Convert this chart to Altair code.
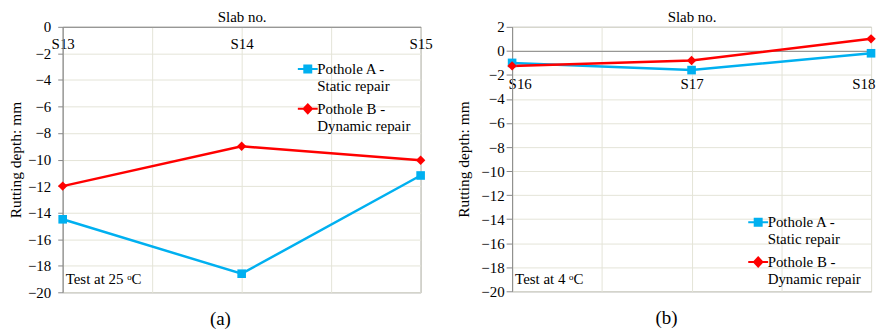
import altair as alt
import pandas as pd

# ---- data ----
slabs_a = ["S13", "S14", "S15"]
static_a = [-14.5, -18.6, -11.2]
dynamic_a = [-12.0, -9.0, -10.05]

slabs_b = ["S16", "S17", "S18"]
static_b = [-1.0, -1.6, -0.2]
dynamic_b = [-1.25, -0.8, 1.0]

series_names = ["Pothole A -|Static repair", "Pothole B -|Dynamic repair"]
series_colors = ["#00B0F0", "#FF0000"]
y_domain_a = [-20, 0]
y_domain_b = [-20, 2]
y_ticks_a = [-20, -18, -16, -14, -12, -10, -8, -6, -4, -2, 0]
y_ticks_b = [-20, -18, -16, -14, -12, -10, -8, -6, -4, -2, 0, 2]
captions = ["(a)", "(b)"]
notes = ["Test at 25 \u1d52C", "Test at 4 \u1d52C"]
x_title = "Slab no."
y_title = "Rutting depth: mm"

FONT = "Liberation Serif"
GRID = "#e4e4d8"
FRAME = "#888888"

# legend symbols: line segment + marker (unit = sqrt(symbolSize)/2 px)
sym_square = "M-2.2,1.4H1.8M-0.9,0.7H0.5V2.1H-0.9Z"
sym_diamond = "M-2.2,1.4H1.8M-0.2,0.5L0.64,1.4L-0.2,2.3L-1.04,1.4Z"


def make_df(slabs, static, dynamic):
    rows = []
    for i, s in enumerate(slabs):
        rows.append({"idx": i, "slab": s, "value": static[i], "series": series_names[0]})
    for i, s in enumerate(slabs):
        rows.append({"idx": i, "slab": s, "value": dynamic[i], "series": series_names[1]})
    return pd.DataFrame(rows)


def panel(slabs, static, dynamic, y_domain, y_ticks, caption, note,
          width, height, label_dy, flush, ylab_pad, ytick, ytitle_pad,
          legend_x, legend_y):
    df = make_df(slabs, static, dynamic)
    n = len(slabs)
    # pixel position of the zero line (x axis crosses at 0)
    axis_pos = height * (y_domain[1] - 0) / (y_domain[1] - y_domain[0])
    half_ticks = [i / 2 for i in range(2 * (n - 1) + 1)]
    lab_expr = "datum.value % 1 == 0 ? " + str(slabs) + "[datum.value] : ''"

    xaxis_kw = dict(
        orient="top", values=half_ticks, labelExpr=lab_expr,
        title=x_title, titleFontWeight="normal", titleFontSize=15,
        titleFont=FONT, titleColor="#000000",
        titleY=-(axis_pos + 2), titleBaseline="bottom",
        offset=-axis_pos,
        labelPadding=-label_dy, labelBaseline="middle",
        labelFontSize=15, labelFont=FONT, labelColor="#000000",
        labelOverlap=False,
        ticks=False, tickSize=0,
        domainColor=FRAME, gridColor=GRID, gridWidth=1,
    )
    if flush:
        xaxis_kw.update(labelFlush=True, labelFlushOffset=flush)
    else:
        xaxis_kw.update(labelFlush=False)

    x_enc = alt.X(
        "idx:Q",
        scale=alt.Scale(domain=[0, n - 1], nice=False, zero=False),
        axis=alt.Axis(**xaxis_kw),
    )
    y_enc = alt.Y(
        "value:Q",
        scale=alt.Scale(domain=y_domain, nice=False, zero=False),
        axis=alt.Axis(
            values=y_ticks, title=y_title, titleFontWeight="normal",
            titleFontSize=15.5, titleFont=FONT, titleColor="#000000",
            titlePadding=ytitle_pad,
            labelFontSize=15, labelFont=FONT, labelColor="#000000",
            labelOverlap=False, labelFlush=False,
            labelPadding=ylab_pad, tickSize=ytick, tickColor=FRAME,
            domainColor=FRAME, gridColor=GRID, gridWidth=1,
        ),
    )

    base = alt.Chart(df).encode(x=x_enc, y=y_enc)

    line_a = base.transform_filter(alt.datum.series == series_names[0]).mark_line(
        color=series_colors[0], strokeWidth=2.5)
    line_b = base.transform_filter(alt.datum.series == series_names[1]).mark_line(
        color=series_colors[1], strokeWidth=2.5)
    pts_a = base.transform_filter(alt.datum.series == series_names[0]).mark_point(
        shape="square", filled=True, size=75, color=series_colors[0], opacity=1)
    pts_b = base.transform_filter(alt.datum.series == series_names[1]).mark_point(
        shape="diamond", filled=True, size=90, color=series_colors[1], opacity=1)

    leg = alt.Legend(
        orient="none", legendX=legend_x, legendY=legend_y, title=None,
        labelExpr="split(datum.label, '|')", labelFont=FONT, labelFontSize=15,
        labelColor="#000000", labelBaseline="top", labelLimit=300,
        labelOffset=1, symbolSize=100, symbolStrokeWidth=2, rowPadding=-2,
        symbolOpacity=1,
    )
    legend_layer = base.transform_filter("false").mark_point(
        filled=True, strokeWidth=2, opacity=1
    ).encode(
        fill=alt.Fill("series:N", scale=alt.Scale(domain=series_names, range=series_colors), legend=leg),
        stroke=alt.Stroke("series:N", scale=alt.Scale(domain=series_names, range=series_colors), legend=leg),
        shape=alt.Shape("series:N", scale=alt.Scale(domain=series_names, range=[sym_square, sym_diamond]), legend=leg),
    )

    note_df = pd.DataFrame({"idx": [0], "value": [y_domain[0] + 1], "t": [note]})
    note_layer = alt.Chart(note_df).mark_text(
        align="left", baseline="middle", dx=3, font=FONT, fontSize=15, color="#000000"
    ).encode(x=x_enc, y=y_enc, text="t:N")

    return alt.layer(line_a, line_b, pts_a, pts_b, legend_layer, note_layer).properties(
        width=width, height=height,
        title=alt.TitleParams(caption, orient="bottom", anchor="middle", frame="bounds",
                              font=FONT, fontSize=19, fontWeight="normal",
                              color="#000000", offset=10),
    )


left = panel(slabs_a, static_a, dynamic_a, y_domain_a, y_ticks_a, captions[0], notes[0],
             360, 267, 17, 0, 7, 5, 4, 240, 28)
right = panel(slabs_b, static_b, dynamic_b, y_domain_b, y_ticks_b, captions[1], notes[1],
              361, 266, 33, 4, 2, 6, 9, 241, 182)

chart = alt.hconcat(left, right, spacing=92, bounds="flush").resolve_scale(
    fill="independent", stroke="independent", shape="independent"
).resolve_legend(
    fill="independent", stroke="independent", shape="independent"
).properties(
    padding={"left": 0, "top": 0, "right": 0, "bottom": 0}
).configure(font=FONT).configure_view(stroke=FRAME, strokeWidth=1)

chart.save("out.html", embed_options={"renderer": "svg", "actions": False})
